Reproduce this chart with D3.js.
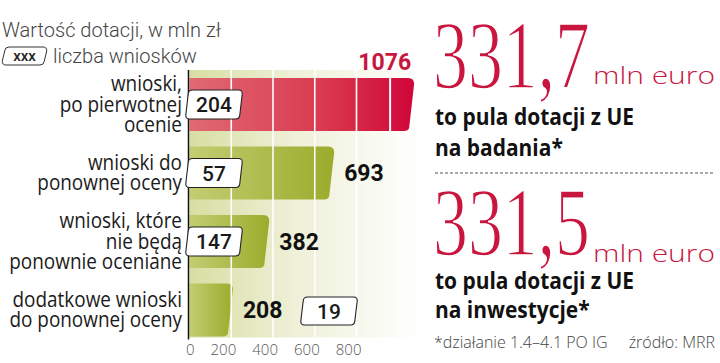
<!DOCTYPE html>
<html>
<head>
<meta charset="utf-8">
<script src="https://cdn.jsdelivr.net/npm/d3@7"></script>
<style>
  body { margin: 0; background: #fff; }
  svg { display: block; font-family: "Open Sans", Roboto, sans-serif; }
</style>
</head>
<body>
<svg width="720" height="363"></svg>
<script>
// wartosc dotacji w mln zl i liczba wnioskow
const categories = [
  ["wnioski,", "po pierwotnej", "ocenie"],
  ["wnioski do", "ponownej oceny"],
  ["wnioski, które", "nie będą", "ponownie oceniane"],
  ["dodatkowe wnioski", "do ponownej oceny"]
]
const values = [1076, 693, 382, 208]
const counts = [204, 57, 147, 19]
const ticks = [0, 200, 400, 600, 800]

const pools = [
  {amount: "331,7", unit: "mln euro", lines: ["to pula dotacji z UE", "na badania*"]},
  {amount: "331,5", unit: "mln euro", lines: ["to pula dotacji z UE", "na inwestycje*"]}
]

const red = "#c8163f"
const svg = d3.select("svg")

// zwezenie kroju (oryginal jest lekko scisniety)
function condense(sel, k) {
  const w = sel.node().getComputedTextLength()
  sel.attr("textLength", w * k).attr("lengthAdjust", "spacingAndGlyphs")
  return sel
}

const x = d3.scaleLinear().domain([0, 800]).range([189.5, 356.5])
const y = d3.scaleBand().domain(d3.range(values.length))
  .range([70.25, 344.25]).paddingInner(0.226).paddingOuter(0.113)

const defs = svg.append("defs")
function grad(id, stops) {
  const g = defs.append("linearGradient").attr("id", id)
  stops.forEach(([o, c]) => g.append("stop").attr("offset", o).attr("stop-color", c))
}
grad("bg", [[0, "#d8dea2"], [0.45, "#eef0d8"], [1, "#ffffff"]])
grad("redbar", [[0, "#e06a74"], [0.6, "#d9394f"], [1, "#d0063a"]])
grad("greenbar", [[0, "#c3cd72"], [1, "#9aac2c"]])

// tlo wykresu
const top0 = y(0) - 8, bottom0 = y(values.length - 1) + y.bandwidth() + 1
svg.append("rect")
  .attr("x", x(0)).attr("y", top0)
  .attr("width", 232).attr("height", bottom0 - top0)
  .attr("fill", "url(#bg)")

// slupki
function barPath(v, i) {
  const x0 = x(0), xe = x(v), t = y(i), b = t + y.bandwidth(), r = 6, s = 6
  return `M${x0},${t} L${xe - r},${t} Q${xe},${t} ${xe},${t + r}
          L${xe - s + 1},${b - 3} Q${xe - s},${b} ${xe - s - 4},${b} L${x0},${b} Z`
}
svg.selectAll("path.bar")
  .data(values)
  .enter().append("path")
  .attr("class", "bar")
  .attr("d", barPath)
  .attr("fill", (d, i) => i === 0 ? "url(#redbar)" : "url(#greenbar)")

// linie siatki
svg.selectAll("line.grid")
  .data(ticks.slice(1))
  .enter().append("line")
  .attr("x1", d => x(d)).attr("x2", d => x(d))
  .attr("y1", top0).attr("y2", bottom0)
  .attr("stroke", "#fff").attr("stroke-width", 1.6)

// przerwa w za dlugim slupku
values.forEach((v, i) => {
  if (v <= 1000) return
  const bx = x(v) - 24
  svg.append("line")
    .attr("x1", bx).attr("x2", bx)
    .attr("y1", y(i)).attr("y2", y(i) + y.bandwidth())
    .attr("stroke", "#fff").attr("stroke-width", 2)
})

// os
svg.append("line")
  .attr("x1", x(0) - 1).attr("x2", x(0) - 1)
  .attr("y1", top0).attr("y2", bottom0 + 2)
  .attr("stroke", "#111").attr("stroke-width", 1.5)

svg.selectAll("text.tick")
  .data(ticks)
  .enter().append("text")
  .attr("x", d => x(d) + 5).attr("y", 355)
  .attr("text-anchor", "end")
  .attr("font-size", 15).attr("font-weight", 300).attr("fill", "#555")
  .text(d => d)

// etykiety kategorii
categories.forEach((lines, i) => {
  const cy = y(i) + y.bandwidth() / 2, lh = 20.5
  lines.forEach((l, k) => {
    const t = svg.append("text")
      .attr("x", 182)
      .attr("y", cy + 7 + (k - (lines.length - 1) / 2) * lh)
      .attr("text-anchor", "end")
      .attr("font-size", 21.5).attr("fill", "#1a1a1a")
      .text(l)
    condense(t, 0.88)
  })
})

// ramka z liczba wnioskow
function boxPath(bx, by, w, h) {
  const s = 3, r = 4
  return `M${bx + s + r},${by} L${bx + w + s - r},${by} Q${bx + w + s},${by} ${bx + w + s - 0.3},${by + r}
          L${bx + w + 0.3},${by + h - r} Q${bx + w},${by + h} ${bx + w - r},${by + h}
          L${bx + r},${by + h} Q${bx},${by + h} ${bx + 0.3},${by + h - r}
          L${bx + s - 0.3},${by + r} Q${bx + s},${by} ${bx + s + r},${by} Z`
}
function countBox(bx, cy, w, h, label, size) {
  svg.append("path")
    .attr("d", boxPath(bx, cy - h / 2, w, h))
    .attr("fill", "#fff").attr("stroke", "#222").attr("stroke-width", 1.1)
  svg.append("text")
    .attr("x", bx + w / 2 + 1.5).attr("y", cy + size * 0.36)
    .attr("text-anchor", "middle")
    .attr("font-family", "Roboto, sans-serif")
    .attr("font-size", size).attr("font-weight", 500).attr("fill", "#1a1a1a")
    .text(label)
}

values.forEach((v, i) => {
  const cy = y(i) + y.bandwidth() / 2
  const lab = svg.append("text")
    .attr("font-family", "Roboto, sans-serif")
    .attr("font-size", 23).attr("font-weight", 700)
    .text(v)
  if (i === 0) {
    lab.attr("x", x(v) - 3).attr("y", y(i) - 8)
      .attr("text-anchor", "end").attr("fill", red)
  } else {
    lab.attr("x", x(v) + 10).attr("y", cy + 8).attr("fill", "#111")
  }
  if (x(v) - x(0) > 60) {
    countBox(x(0) - 4, cy, 54, 29, counts[i], 21)
  } else {
    const lw = lab.node().getComputedTextLength()
    countBox(x(v) + 10 + lw + 18, cy + 1, 54, 28, counts[i], 21)
  }
})

// tytul i legenda
svg.append("text")
  .attr("x", 2).attr("y", 37)
  .attr("font-family", "Roboto, sans-serif")
  .attr("font-size", 20).attr("font-weight", 300).attr("fill", "#444")
  .text("Wartość dotacji, w mln zł")
svg.append("path")
  .attr("d", boxPath(2, 47, 42, 18))
  .attr("fill", "#fff").attr("stroke", "#333").attr("stroke-width", 1)
svg.append("text")
  .attr("x", 24.5).attr("y", 61)
  .attr("text-anchor", "middle")
  .attr("font-family", "Roboto, sans-serif")
  .attr("font-size", 15).attr("font-weight", 500).attr("fill", "#222")
  .text("xxx")
svg.append("text")
  .attr("x", 53).attr("y", 63)
  .attr("font-family", "Roboto, sans-serif")
  .attr("font-size", 20).attr("font-weight", 300).attr("fill", "#444")
  .text("liczba wniosków")

// prawa kolumna
const layout = [
  {base: 88, unitBase: 84, lines: [125, 156]},
  {base: 255, unitBase: 262, lines: [289, 318]}
]
const panel = svg.append("g")
pools.forEach((p, i) => {
  const L = layout[i]
  const g = panel.append("g")
  const big = g.append("text")
    .attr("font-family", "'Liberation Serif', 'DejaVu Serif', serif")
    .attr("font-size", 97).attr("fill", red)
    .attr("stroke", "#fff").attr("stroke-width", 1.5)
    .text(p.amount)
  const k = 157 / big.node().getComputedTextLength()
  g.attr("transform", `translate(433,${L.base}) scale(${k},1)`)
  panel.append("text")
    .attr("x", 593).attr("y", L.unitBase)
    .attr("font-size", 23).attr("font-weight", 300).attr("fill", red)
    .attr("textLength", 122).attr("lengthAdjust", "spacingAndGlyphs")
    .text(p.unit)
  p.lines.forEach((l, k) => {
    const t = panel.append("text")
      .attr("x", 435).attr("y", L.lines[k])
      .attr("font-size", 23).attr("font-weight", 700).attr("fill", "#111")
      .text(l)
    condense(t, 0.91)
  })
})

panel.append("line")
  .attr("x1", 435).attr("x2", 715).attr("y1", 173).attr("y2", 173)
  .attr("stroke", "#555").attr("stroke-width", 1).attr("stroke-dasharray", "3,2")

panel.append("text")
  .attr("x", 434).attr("y", 348)
  .attr("font-size", 16).attr("font-weight", 300).attr("fill", "#444")
  .text("*działanie 1.4–4.1 PO IG")
panel.append("text")
  .attr("x", 715).attr("y", 348)
  .attr("text-anchor", "end")
  .attr("font-size", 16).attr("font-weight", 300).attr("fill", "#444")
  .text("źródło: MRR")
</script>
</body>
</html>
